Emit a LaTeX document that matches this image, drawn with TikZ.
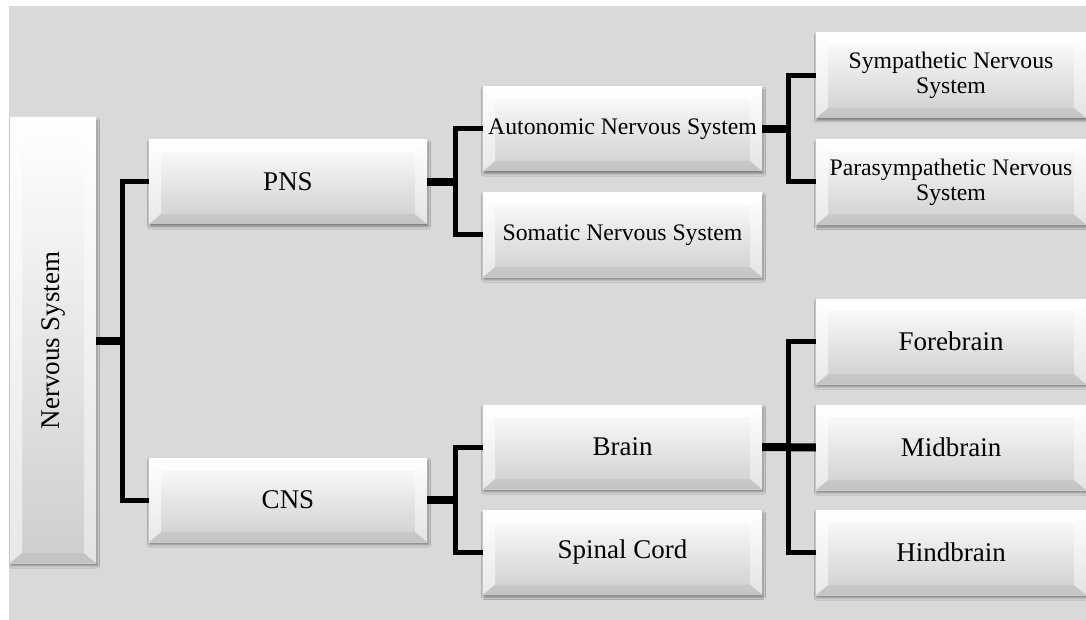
\documentclass[tikz,border=0pt]{standalone}
\usepackage{fontspec}
\setmainfont{Liberation Serif}
\usetikzlibrary{shadows.blur,calc}
\definecolor{bg}{RGB}{217,217,217}
\newcommand{\bigtxt}{\fontsize{27}{30}\selectfont}
\newcommand{\smalltxt}{\fontsize{23.7}{25}\selectfont}
\tikzset{
  bev/.style={rectangle, inner sep=0pt, align=center, text=black,
    top color=white, bottom color={rgb,255:red,206;green,206;blue,206},
    blur shadow={shadow xshift=1pt, shadow yshift=-2.5pt, shadow blur radius=2.5pt, shadow opacity=45},
    path picture={
      \fill[white, opacity=0.95] let \p1=(path picture bounding box.north west), \p2=(path picture bounding box.south east) in
        (\x1,\y1) -- (\x2,\y1) -- (\x2-12pt,\y1-12pt) -- (\x1+12pt,\y1-12pt) -- cycle;
      \fill[white, opacity=0.55] let \p1=(path picture bounding box.north west), \p2=(path picture bounding box.south east) in
        (\x1,\y1) -- (\x1+12pt,\y1-12pt) -- (\x1+12pt,\y2+10pt) -- (\x1,\y2) -- cycle;
      \fill[white, opacity=0.45] let \p1=(path picture bounding box.north west), \p2=(path picture bounding box.south east) in
        (\x2,\y1) -- (\x2-12pt,\y1-12pt) -- (\x2-12pt,\y2+10pt) -- (\x2,\y2) -- cycle;
      \fill[black, opacity=0.05] let \p1=(path picture bounding box.north west), \p2=(path picture bounding box.south east) in
        (\x1,\y2) -- (\x1+12pt,\y2+10pt) -- (\x2-12pt,\y2+10pt) -- (\x2,\y2) -- cycle;
    }},
  wide/.style={bev, minimum width=278pt, minimum height=84pt},
  side/.style={bev, minimum width=270pt, minimum height=85pt},
  big/.style={font=\bigtxt},
  small/.style={font=\smalltxt},
  stub/.style={draw=black, line width=8pt},
  branch/.style={draw=black, line width=5pt, line join=miter}
}
\begin{document}
\begin{tikzpicture}[x=1pt,y=-1pt]
\useasboundingbox (0,0) rectangle (1086,620);
\fill[bg] (9,6) rectangle (1086,620);

% nodes
\node[bev, big, minimum width=86pt, minimum height=445pt] (ns) at (53,340.5) {\rotatebox{90}{Nervous System}};
\node[wide, big] (pns) at (288,182) {PNS};
\node[wide, big] (cns) at (288,500) {CNS};
\node[wide, small, minimum width=279pt] (ans) at (622.5,129) {Autonomic Nervous System};
\node[wide, small, minimum width=279pt] (sns) at (622.5,235) {Somatic Nervous System};
\node[wide, big, minimum width=279pt] (brain) at (622.5,447) {Brain};
\node[wide, big, minimum width=279pt] (spinal) at (622.5,552.5) {Spinal Cord};
\node[side, small] (symp) at (951,75.5) {Sympathetic Nervous\\System};
\node[side, small] (para) at (951,182) {Parasympathetic Nervous\\System};
\node[side, big] (fore) at (951,341.5) {Forebrain};
\node[side, big] (mid) at (951,447.5) {Midbrain};
\node[side, big] (hind) at (951,552.5) {Hindbrain};

% junctions
\coordinate (j1) at (122.5,340.5);
\coordinate (j2) at (455.5,182);
\coordinate (j3) at (455.5,500);
\coordinate (j4) at (788,129);
\coordinate (j5) at (788,447.5);

% connectors
\draw[branch] (pns.west) -| (j1) |- (cns.west);
\draw[stub] (ns.east) -- (j1);
\draw[branch] (ans.west) -| (j2) |- (sns.west);
\draw[stub] (pns.east) -- (j2);
\draw[branch] (brain.west) -| (j3) |- (spinal.west);
\draw[stub] (cns.east) -- (j3);
\draw[branch] (symp.west) -| (j4) |- (para.west);
\draw[stub] (ans.east) -- (j4);
\draw[branch] (fore.west) -| (j5) |- (hind.west);
\draw[stub] (brain.east) -- (mid.west);
\end{tikzpicture}
\end{document}
